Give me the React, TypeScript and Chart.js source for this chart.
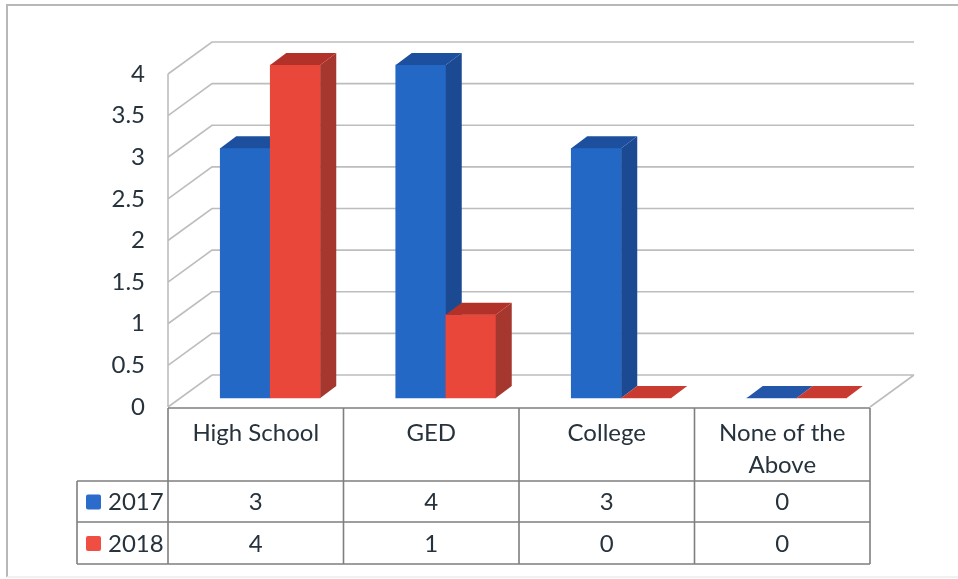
import React, { useEffect, useRef } from "react";
import { Chart, registerables } from "chart.js";

Chart.register(...registerables);

const categories: (string | string[])[] = ["High School", "GED", "College", ["None of the", "Above"]];
const seriesNames = ["2017", "2018"];
const values2017 = [3, 4, 3, 0];
const values2018 = [4, 1, 0, 0];
const yTicks = ["0", "0.5", "1", "1.5", "2", "2.5", "3", "3.5", "4"];

const FONT = "Lato";
const TEXT = "#26323c";
const GRID = "#bdbdbd";
const TABLE = "#7f7f7f";
const FACES = [
  { front: "#2468c6", side: "#1b4a93", top: "#1c4f9e", flat: "#2356a8", key: "#2a6bcb" },
  { front: "#e8473a", side: "#a5372f", top: "#b2322a", flat: "#c93a30", key: "#f04e42" },
];

const threeD = {
  id: "threeD",
  beforeDraw(chart: any) {
    const { ctx, chartArea: a, scales } = chart;
    const dx = 44;
    const dy = -32;
    ctx.save();
    ctx.strokeStyle = "#b8b8b8";
    ctx.lineWidth = 2;
    ctx.beginPath();
    ctx.moveTo(7, 577);
    ctx.lineTo(7, 5);
    ctx.lineTo(958, 5);
    ctx.stroke();
    ctx.strokeStyle = "#ececec";
    ctx.lineWidth = 1.5;
    ctx.beginPath();
    ctx.moveTo(7, 577);
    ctx.lineTo(958, 577);
    ctx.stroke();
    ctx.strokeStyle = GRID;
    ctx.lineWidth = 1.6;
    ctx.beginPath();
    ctx.moveTo(a.left, a.top);
    ctx.lineTo(a.left, a.bottom);
    scales.y.ticks.forEach((t: any) => {
      const y = scales.y.getPixelForValue(t.value);
      ctx.moveTo(a.left, y);
      ctx.lineTo(a.left + dx, y + dy);
      ctx.lineTo(a.right + dx, y + dy);
    });
    ctx.moveTo(a.right + dx, a.bottom + dy);
    ctx.lineTo(a.right, a.bottom);
    ctx.stroke();
    ctx.restore();
  },
  // Draw bars series by series so that 2018 sits in front of the side of 2017.
  beforeDatasetDraw() {
    return false;
  },
  afterDatasetsDraw(chart: any) {
    const { ctx } = chart;
    const bx = 16;
    const by = -12;
    ctx.save();
    ctx.translate(14.5, -9);
    [0, 1].forEach((index) => {
      const f = FACES[index];
      chart.getDatasetMeta(index).data.forEach((bar: any) => {
        bar.draw(ctx);
        const p = bar.getProps(["x", "y", "base", "width"], true);
        const l = p.x - p.width / 2;
        const r = p.x + p.width / 2;
        const flat = Math.abs(p.base - p.y) < 1;
        ctx.fillStyle = flat ? f.flat : f.top;
        ctx.beginPath();
        ctx.moveTo(l, p.y);
        ctx.lineTo(l + bx, p.y + by);
        ctx.lineTo(r + bx, p.y + by);
        ctx.lineTo(r, p.y);
        ctx.closePath();
        ctx.fill();
        if (!flat) {
          ctx.fillStyle = f.side;
          ctx.beginPath();
          ctx.moveTo(r, p.y);
          ctx.lineTo(r + bx, p.y + by);
          ctx.lineTo(r + bx, p.base + by);
          ctx.lineTo(r, p.base);
          ctx.closePath();
          ctx.fill();
        }
      });
    });
    ctx.restore();
  },
  afterDraw(chart: any) {
    const { ctx, chartArea: a, scales } = chart;
    const rows = [408, 481, 522, 564];
    const legendLeft = 77;
    ctx.save();
    ctx.strokeStyle = TABLE;
    ctx.lineWidth = 1.6;
    ctx.beginPath();
    ctx.moveTo(a.left, rows[0]);
    ctx.lineTo(a.right, rows[0]);
    for (let i = 1; i < rows.length; i++) {
      ctx.moveTo(legendLeft, rows[i]);
      ctx.lineTo(a.right, rows[i]);
    }
    ctx.moveTo(legendLeft, rows[1]);
    ctx.lineTo(legendLeft, rows[3]);
    const step = (a.right - a.left) / categories.length;
    for (let i = 0; i <= categories.length; i++) {
      ctx.moveTo(a.left + step * i, rows[0]);
      ctx.lineTo(a.left + step * i, rows[3]);
    }
    ctx.stroke();

    ctx.font = `24px ${FONT}`;
    ctx.textBaseline = "middle";
    [values2017, values2018].forEach((vals, s) => {
      const yMid = (rows[s + 1] + rows[s + 2]) / 2 + 1;
      ctx.textAlign = "center";
      ctx.fillStyle = TEXT;
      vals.forEach((v, i) => {
        ctx.fillText(String(v), scales.x.getPixelForTick(i), yMid);
      });
      ctx.fillStyle = FACES[s].key;
      ctx.beginPath();
      ctx.roundRect(86, yMid - 8, 15, 15, 2);
      ctx.fill();
      ctx.fillStyle = TEXT;
      ctx.textAlign = "left";
      ctx.fillText(seriesNames[s], 108, yMid);
    });
    ctx.restore();
  },
};

export default function App() {
  const ref = useRef<HTMLCanvasElement>(null);
  useEffect(() => {
    document.body.style.margin = "0";
    document.body.style.background = "#ffffff";
    let chart: Chart | null = null;
    let alive = true;
    const build = () => {
      if (!alive || !ref.current) return;
      chart = new Chart(ref.current, {
        type: "bar",
        data: {
          labels: categories as any,
          datasets: [
            { label: seriesNames[0], data: values2017, backgroundColor: FACES[0].front, barThickness: 50 },
            { label: seriesNames[1], data: values2018, backgroundColor: FACES[1].front, barThickness: 50 },
          ],
        },
        options: {
          responsive: false,
          animation: false,
          layout: { padding: { left: 68, right: 88, top: 74, bottom: 0 } },
          plugins: { legend: { display: false }, tooltip: { enabled: false }, title: { display: false } },
          scales: {
            x: {
              grid: { display: false, drawTicks: false },
              border: { display: false },
              offset: true,
              ticks: {
                color: TEXT,
                font: { family: FONT, size: 24, lineHeight: 1.33 },
                padding: 10,
                maxRotation: 0,
                autoSkip: false,
              },
              afterFit: (s: any) => { s.height = 579 - 407; },
            },
            y: {
              min: 0,
              max: 4,
              position: "left",
              grid: { display: false, drawTicks: false },
              border: { display: false },
              afterFit: (s: any) => { s.width = 100; },
              ticks: {
                stepSize: 0.5,
                autoSkip: false,
                color: TEXT,
                font: { family: FONT, size: 24 },
                padding: 23,
                callback: (_v: any, i: number) => yTicks[i],
              },
            },
          },
        },
        plugins: [threeD],
      } as any);
    };
    const fonts = (document as any).fonts;
    if (fonts?.load) {
      fonts.load(`24px ${FONT}`).then(build, build);
    } else {
      build();
    }
    return () => {
      alive = false;
      chart?.destroy();
    };
  }, []);
  return <canvas ref={ref} width={958} height={579} style={{ display: "block" }} />;
}
